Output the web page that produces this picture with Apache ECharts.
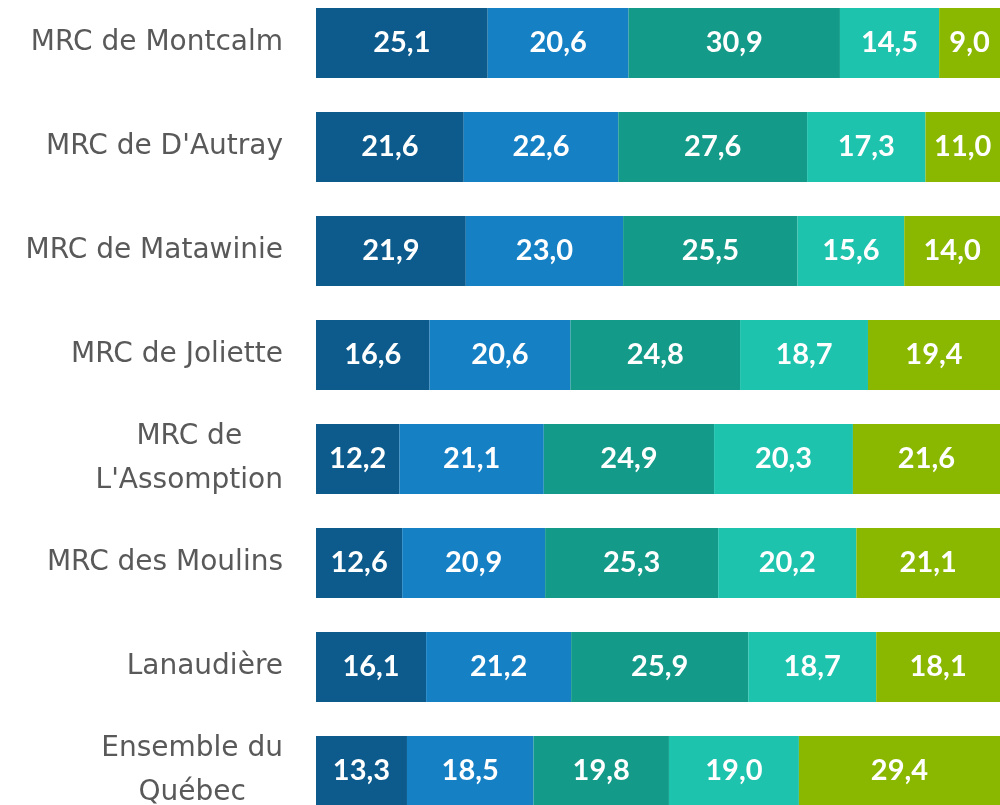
<!DOCTYPE html>
<html>
<head>
<meta charset="utf-8">
<script src="https://cdn.jsdelivr.net/npm/echarts@6/dist/echarts.min.js"></script>
<style>html,body{margin:0;padding:0;background:#fff}#c{width:1000px;height:805px}</style>
</head>
<body>
<div id="c"></div>
<script>
const categories = ["MRC de Montcalm", "MRC de D'Autray", "MRC de Matawinie", "MRC de Joliette", "MRC de\nL'Assomption", "MRC des Moulins", "Lanaudière", "Ensemble du\nQuébec"];
const s1 = [25.1, 21.6, 21.9, 16.6, 12.2, 12.6, 16.1, 13.3];
const s2 = [20.6, 22.6, 23.0, 20.6, 21.1, 20.9, 21.2, 18.5];
const s3 = [30.9, 27.6, 25.5, 24.8, 24.9, 25.3, 25.9, 19.8];
const s4 = [14.5, 17.3, 15.6, 18.7, 20.3, 20.2, 18.7, 19.0];
const s5 = [9.0, 11.0, 14.0, 19.4, 21.6, 21.1, 18.1, 29.4];
const seriesData = [s1, s2, s3, s4, s5];
const colors = ['#0C5B8C', '#1680C4', '#149A88', '#1EC3AE', '#8AB800'];

const chart = echarts.init(document.getElementById('c'));
chart.setOption({
  animation: false,
  grid: { left: 316, right: 0, top: -9, height: 832, outerBoundsMode: 'none', containLabel: false },
  xAxis: { type: 'value', min: 0, max: 100, show: false },
  yAxis: {
    type: 'category', inverse: true, data: categories,
    axisLine: { show: false }, axisTick: { show: false },
    axisLabel: {
      margin: 33, align: 'right',
      formatter: v => v.split('\n').map(l => '{c|' + l + '}').join('\n'),
      rich: { c: { align: 'center', fontFamily: 'DejaVu Sans', fontSize: 28, color: '#595959', lineHeight: 44 } }
    }
  },
  series: seriesData.map((d, i) => ({
    type: 'bar', stack: 'a', data: d, barWidth: 70,
    itemStyle: { color: colors[i] },
    label: {
      show: true, position: 'inside', color: '#fff', fontWeight: 'bold',
      fontFamily: 'Lato', fontSize: 29,
      formatter: p => p.value.toFixed(1).replace('.', ',')
    }
  }))
});
</script>
</body>
</html>
